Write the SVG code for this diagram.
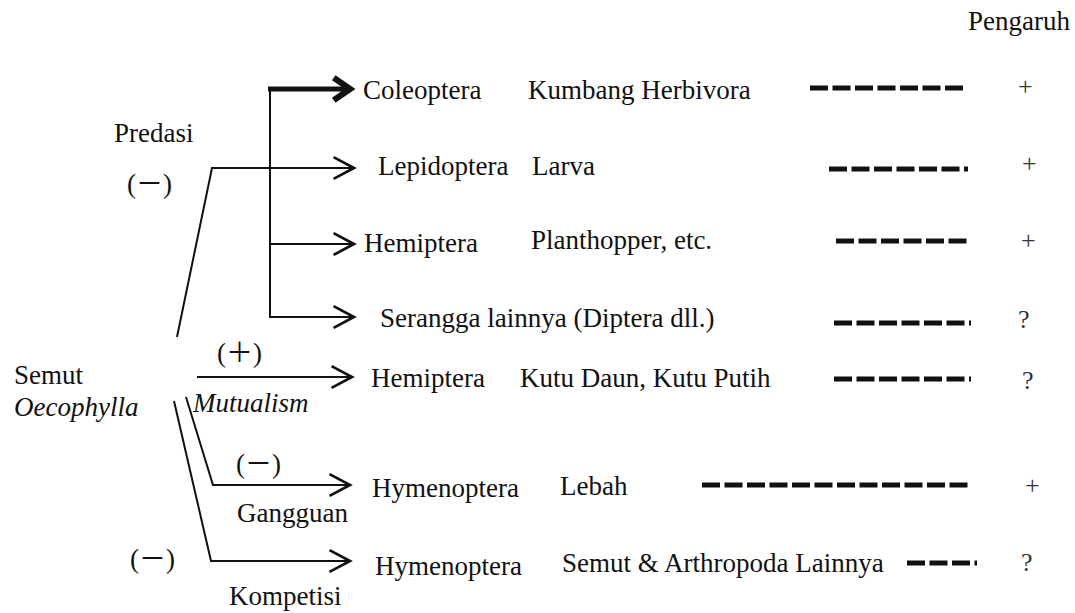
<svg xmlns="http://www.w3.org/2000/svg" width="1075" height="613" viewBox="0 0 1075 613">
<style>
text{font-family:"Liberation Serif","Noto Sans CJK SC",serif;font-size:27px;fill:#111}
.it{font-style:italic}
.sig{fill:#333;font-size:26px}
.c{fill:none;stroke:#111;stroke-width:2}
.thick{fill:none;stroke:#111;stroke-width:5}
.d{fill:none;stroke:#111;stroke-width:5;stroke-dasharray:18 4.5}
</style>
<defs>
<marker id="ah" markerUnits="userSpaceOnUse" markerWidth="30" markerHeight="30" viewBox="-18 -10 22 20" refX="0" refY="0" orient="auto" overflow="visible">
<path d="M-15,-8 L0,0 L-15,8" fill="none" stroke="#111" stroke-width="2"/>
</marker>
<marker id="ahb" markerUnits="userSpaceOnUse" markerWidth="30" markerHeight="30" viewBox="-18 -12 24 24" refX="0" refY="0" orient="auto" overflow="visible">
<path d="M-13,-9 L0,0 L-13,9" fill="none" stroke="#111" stroke-width="5"/>
</marker>
</defs>
<rect width="1075" height="613" fill="#fff"/>
<g id="connectors">
<path class="c" d="M177,337 L212,168 L354,168" marker-end="url(#ah)"/>
<path class="c" d="M270,88 L270,318"/>
<path class="thick" d="M268,89 L350,89" marker-end="url(#ahb)"/>
<path class="c" d="M270,244 L354,244" marker-end="url(#ah)"/>
<path class="c" d="M270,317 L354,317" marker-end="url(#ah)"/>
<path class="c" d="M197,377 L352,377" marker-end="url(#ah)"/>
<path class="c" d="M186,397 L213,485 L350,485" marker-end="url(#ah)"/>
<path class="c" d="M174,401 L211,561 L350,561" marker-end="url(#ah)"/>
</g>
<g id="source">
<text x="14" y="384">Semut</text>
<text class="it" x="14" y="416">Oecophylla</text>
</g>
<g id="relation-labels">
<text x="114" y="142">Predasi</text>
<text x="127" y="193">(－)</text>
<text x="217" y="362">(＋)</text>
<text class="it" x="193" y="412">Mutualism</text>
<text x="236" y="473">(－)</text>
<text x="237" y="522">Gangguan</text>
<text x="130" y="568">(－)</text>
<text x="229" y="605">Kompetisi</text>
</g>
<g id="n-coleoptera"><text x="363" y="99">Coleoptera</text><text x="528" y="99">Kumbang Herbivora</text></g>
<g id="n-lepidoptera"><text x="378" y="175">Lepidoptera</text><text x="532" y="175">Larva</text></g>
<g id="n-hemiptera1"><text x="364" y="252">Hemiptera</text><text x="531" y="249">Planthopper, etc.</text></g>
<g id="n-serangga"><text x="380" y="327">Serangga lainnya (Diptera dll.)</text></g>
<g id="n-hemiptera2"><text x="371" y="387">Hemiptera</text><text x="520" y="387">Kutu Daun, Kutu Putih</text></g>
<g id="n-hymenoptera1"><text x="372" y="497">Hymenoptera</text><text x="560" y="495">Lebah</text></g>
<g id="n-hymenoptera2"><text x="375" y="575">Hymenoptera</text><text x="562" y="572">Semut &amp; Arthropoda Lainnya</text></g>
<g id="pengaruh">
<text x="968" y="30">Pengaruh</text>
<path class="d" d="M810,88 L963,88"/>
<path class="d" d="M829,169 L968,169"/>
<path class="d" d="M836,241 L967,241"/>
<path class="d" d="M834,323 L971,323"/>
<path class="d" d="M834,379 L971,379"/>
<path class="d" d="M702,485 L968,485"/>
<path class="d" d="M907,563 L977,563"/>
<text class="sig" x="1018" y="95">+</text>
<text class="sig" x="1022" y="172">+</text>
<text class="sig" x="1021" y="249">+</text>
<text class="sig" x="1018" y="328">?</text>
<text class="sig" x="1022" y="389">?</text>
<text class="sig" x="1025" y="494">+</text>
<text class="sig" x="1021" y="571">?</text>
</g>
</svg>
